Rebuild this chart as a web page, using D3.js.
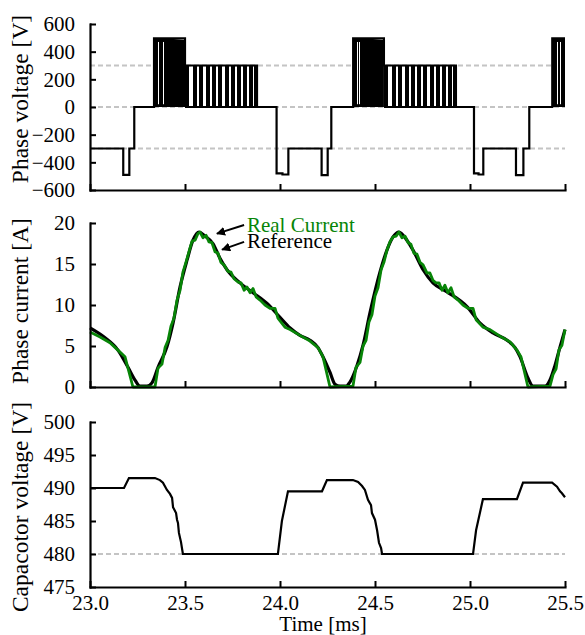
<!DOCTYPE html>
<html>
<head>
<meta charset="utf-8">
<script src="https://cdn.jsdelivr.net/npm/d3@7"></script>
<style>
body { margin: 0; background: #fff; }
svg text { font-family: "Liberation Serif", "Times New Roman", serif; }
</style>
</head>
<body>
<div id="chart"></div>
<script>
// ---- data ----
var timeTicks = [23.0, 23.5, 24.0, 24.5, 25.0, 25.5];
var voltTicks = [-600, -400, -200, 0, 200, 400, 600];
var currTicks = [0, 5, 10, 15, 20];
var capTicks = [475, 480, 485, 490, 495, 500];
var voltGrid = [300, 0, -300];
var capGrid = [480];

// phase voltage: [time ms, volts], held until the next entry
var voltSteps = [
    [23.000, -300], [23.175, -490], [23.207, -300], [23.233, 0],
    [23.337, 497], [23.500, 300], [23.879, 0],
    [23.982, -480], [24.013, -488], [24.044, -300], [24.219, -492], [24.251, -300], [24.270, 0],
    [24.385, 497], [24.547, 300], [24.926, 0],
    [25.021, -480], [25.045, -488], [25.070, -300], [25.242, -492], [25.281, -300], [25.312, 0],
    [25.433, 497], [25.500, 497]
];
// dense high-level switching blocks: [time, top volts]
var pwmHigh = [
    [[23.337, 497], [23.420, 494], [23.500, 486]],
    [[24.385, 497], [24.470, 494], [24.547, 486]],
    [[25.433, 497], [25.500, 496]]
];
// short off-intervals visible inside the dense blocks
var pwmHighGaps = [23.360, 23.383, 24.405, 24.416, 25.458, 25.474];
// 300 V switching bands: [start, end]
var pwmMid = [[23.500, 23.879], [24.547, 24.926]];
// black pulse clusters inside the 300 V bands: [start, end]
var pwmBars = [
    [23.500, 23.523], [23.543, 23.562], [23.576, 23.595], [23.609, 23.628], [23.642, 23.661],
    [23.675, 23.694], [23.708, 23.727], [23.741, 23.760], [23.774, 23.793], [23.807, 23.826],
    [23.838, 23.857], [23.862, 23.879],
    [24.547, 24.570], [24.590, 24.609], [24.623, 24.642], [24.656, 24.675], [24.689, 24.708],
    [24.722, 24.741], [24.755, 24.774], [24.788, 24.807], [24.821, 24.840], [24.854, 24.873],
    [24.884, 24.903], [24.909, 24.926]
];

// phase current reference [time, A]
var refCurrent = [
    [23.000, 7.2], [23.079, 6.0], [23.147, 4.5], [23.200, 2.4], [23.237, 0.85], [23.263, 0.1],
    [23.300, 0.1], [23.326, 0.5], [23.358, 2.4], [23.405, 4.9], [23.437, 7.8], [23.474, 12.2],
    [23.511, 15.5], [23.542, 17.9], [23.574, 18.9], [23.605, 18.4], [23.647, 17.5], [23.684, 15.7],
    [23.721, 14.3], [23.789, 12.7], [23.858, 11.5], [23.932, 10.2], [24.000, 8.5], [24.053, 7.2],
    [24.105, 6.3], [24.158, 5.7], [24.200, 4.8], [24.226, 3.7], [24.263, 1.8], [24.289, 0.35],
    [24.316, 0.1], [24.347, 0.1], [24.368, 0.6], [24.405, 2.6], [24.437, 5.1], [24.474, 9.1],
    [24.526, 14.0], [24.563, 16.7], [24.595, 18.3], [24.626, 18.9], [24.668, 17.9], [24.700, 16.7],
    [24.753, 14.3], [24.805, 12.7], [24.879, 11.6], [24.984, 9.8], [25.053, 7.8], [25.121, 6.6],
    [25.195, 5.7], [25.237, 4.8], [25.263, 3.7], [25.305, 1.1], [25.332, 0.1], [25.395, 0.1],
    [25.421, 0.85], [25.447, 2.6], [25.474, 4.9], [25.500, 7.0]
];
// measured phase current [time, A]
var realCurrent = [
    [23.000, 6.7], [23.053, 6.1], [23.105, 5.4], [23.147, 4.5], [23.184, 3.7], [23.226, 0.0],
    [23.342, 0.0], [23.358, 2.3], [23.379, 2.8], [23.395, 4.8], [23.411, 5.7], [23.426, 7.4],
    [23.442, 8.4], [23.458, 10.6], [23.474, 11.8], [23.489, 14.0], [23.505, 15.2], [23.521, 16.5],
    [23.537, 17.8], [23.553, 17.9], [23.568, 18.7], [23.579, 18.9], [23.595, 18.2], [23.611, 18.5],
    [23.626, 17.7], [23.642, 17.6], [23.658, 16.5], [23.674, 16.3], [23.689, 15.2], [23.705, 14.9],
    [23.726, 14.1], [23.742, 14.0], [23.758, 13.2], [23.779, 12.8], [23.795, 12.7], [23.811, 11.8],
    [23.826, 12.2], [23.842, 11.5], [23.858, 12.0], [23.874, 11.0], [23.895, 10.6], [23.921, 10.0],
    [23.947, 9.6], [23.974, 9.6], [23.989, 8.4], [24.026, 7.3], [24.053, 7.0], [24.105, 6.3],
    [24.158, 5.6], [24.200, 4.8], [24.226, 3.7], [24.263, 0.0], [24.384, 0.1], [24.400, 2.4],
    [24.421, 3.0], [24.437, 5.0], [24.453, 5.7], [24.468, 7.9], [24.484, 8.8], [24.500, 11.1],
    [24.516, 12.1], [24.532, 14.3], [24.547, 15.2], [24.563, 16.7], [24.579, 17.7], [24.595, 18.3],
    [24.611, 18.4], [24.626, 18.9], [24.642, 18.2], [24.658, 18.4], [24.674, 17.6], [24.689, 17.4],
    [24.705, 16.3], [24.721, 16.2], [24.737, 15.2], [24.753, 14.9], [24.774, 13.9], [24.789, 13.9],
    [24.805, 13.0], [24.821, 12.7], [24.837, 12.7], [24.853, 11.8], [24.868, 12.4], [24.884, 11.5],
    [24.900, 12.1], [24.916, 11.0], [24.937, 10.6], [24.963, 10.0], [24.989, 9.6], [25.016, 9.6],
    [25.032, 8.2], [25.068, 7.3], [25.105, 7.0], [25.158, 6.2], [25.211, 5.5], [25.247, 4.5],
    [25.268, 3.7], [25.305, 0.0], [25.421, 0.1], [25.437, 1.5], [25.453, 2.2], [25.468, 4.5],
    [25.484, 5.1], [25.500, 7.0]
];

// capacitor voltage [time, V]
var capVoltage = [
    [23.000, 490.0], [23.179, 490.0], [23.205, 491.5], [23.342, 491.5], [23.368, 491.2],
    [23.384, 490.8], [23.405, 489.7], [23.421, 489.1], [23.432, 488.5], [23.437, 487.1],
    [23.453, 486.2], [23.458, 485.2], [23.463, 484.7], [23.468, 483.2], [23.479, 481.8],
    [23.484, 480.9], [23.489, 480.0], [23.989, 480.0], [24.010, 485.0], [24.042, 489.5],
    [24.221, 489.5], [24.247, 491.2], [24.384, 491.2], [24.411, 490.9], [24.432, 490.3],
    [24.447, 489.7], [24.463, 488.2], [24.479, 487.4], [24.484, 486.2], [24.500, 485.2],
    [24.511, 483.6], [24.521, 481.7], [24.532, 480.9], [24.537, 480.0], [25.016, 480.0],
    [25.032, 483.6], [25.068, 488.3], [25.247, 488.3], [25.279, 490.8], [25.432, 490.8],
    [25.458, 490.2], [25.474, 489.5], [25.484, 489.2], [25.500, 488.6]
];

// ---- drawing ----
var width = 585, height = 635;
var svg = d3.select('#chart').append('svg')
    .attr('width', width)
    .attr('height', height);

var x = d3.scaleLinear().domain([23.0, 25.5]).range([90, 565]);
var yVolt = d3.scaleLinear().domain([-600, 600]).range([190, 24]);
var yCurr = d3.scaleLinear().domain([0, 20]).range([387, 223]);
var yCap = d3.scaleLinear().domain([475, 500]).range([587, 422]);

function drawAxes(y, ticks, showLabels) {
    var bottom = y.range()[0];
    var gx = svg.append('g')
        .attr('transform', 'translate(0,' + bottom + ')')
        .call(d3.axisBottom(x)
            .tickValues(timeTicks)
            .tickSizeInner(-6)
            .tickSizeOuter(0)
            .tickPadding(8)
            .tickFormat(showLabels ? d3.format('.1f') : function () { return ''; }));
    var gy = svg.append('g')
        .attr('transform', 'translate(' + x.range()[0] + ',0)')
        .call(d3.axisLeft(y)
            .tickValues(ticks)
            .tickSizeInner(-6)
            .tickSizeOuter(0)
            .tickPadding(15));
    [gx, gy].forEach(function (g) {
        g.attr('font-family', null);
        g.select('.domain').attr('stroke-width', 2.2).attr('stroke-linecap', 'square');
        g.selectAll('.tick line').attr('stroke-width', 2);
        g.selectAll('.tick text').style('font-size', '21px').attr('fill', '#000');
    });
}

function drawGrid(y, values) {
    svg.append('g').selectAll('line')
        .data(values)
        .join('line')
        .attr('x1', x.range()[0])
        .attr('x2', x.range()[1])
        .attr('y1', function (d) { return y(d); })
        .attr('y2', function (d) { return y(d); })
        .attr('stroke', '#c4c4c4')
        .attr('stroke-width', 2)
        .attr('stroke-dasharray', '5,3');
}

// panel 1: phase voltage
drawGrid(yVolt, voltGrid);

svg.append('g').selectAll('path')
    .data(pwmHigh)
    .join('path')
    .attr('d', d3.area()
        .x(function (d) { return x(d[0]); })
        .y0(yVolt(0))
        .y1(function (d) { return yVolt(d[1]); }))
    .attr('fill', '#000');

svg.append('g').selectAll('line')
    .data(pwmHighGaps)
    .join('line')
    .attr('x1', function (d) { return Math.round(x(d)) + 0.5; })
    .attr('x2', function (d) { return Math.round(x(d)) + 0.5; })
    .attr('y1', yVolt(470))
    .attr('y2', yVolt(20))
    .attr('stroke', '#fff')
    .attr('stroke-width', 1);

svg.append('g').selectAll('line')
    .data(pwmMid)
    .join('line')
    .attr('x1', function (d) { return x(d[0]); })
    .attr('x2', function (d) { return x(d[1]); })
    .attr('y1', yVolt(0))
    .attr('y2', yVolt(0))
    .attr('stroke', '#000')
    .attr('stroke-width', 2);

svg.append('g')
    .attr('shape-rendering', 'crispEdges')
    .selectAll('rect')
    .data(pwmBars)
    .join('rect')
    .attr('x', function (d) { return Math.round(x(d[0])); })
    .attr('width', function (d) { return Math.max(2, Math.round(x(d[1]) - x(d[0]))); })
    .attr('y', yVolt(300))
    .attr('height', yVolt(0) - yVolt(300))
    .attr('fill', '#000');

svg.append('path')
    .datum(voltSteps)
    .attr('d', d3.line()
        .x(function (d) { return x(d[0]); })
        .y(function (d) { return yVolt(d[1]); })
        .curve(d3.curveStepAfter))
    .attr('fill', 'none')
    .attr('stroke', '#000')
    .attr('stroke-width', 2.2);

drawAxes(yVolt, voltTicks, false);

// panel 2: phase current
var currLine = d3.line()
    .x(function (d) { return x(d[0]); })
    .y(function (d) { return yCurr(d[1]); });

svg.append('path')
    .datum(refCurrent)
    .attr('d', currLine.curve(d3.curveMonotoneX))
    .attr('fill', 'none')
    .attr('stroke', '#000')
    .attr('stroke-width', 3.2);

svg.append('path')
    .datum(realCurrent)
    .attr('d', currLine.curve(d3.curveLinear))
    .attr('fill', 'none')
    .attr('stroke', '#078507')
    .attr('stroke-width', 2.8)
    .attr('stroke-linejoin', 'round');

drawAxes(yCurr, currTicks, false);

// legend annotations: [label, colour, text time, text A, arrow tail, arrow head]
var notes = [
    ['Real Current', '#078507', 23.826, 18.9, [23.811, 19.75], [23.668, 18.7]],
    ['Reference', '#000', 23.826, 16.9, [23.811, 17.7], [23.695, 16.75]]
];
var defs = svg.append('defs');
defs.append('marker')
    .attr('id', 'head')
    .attr('viewBox', '0 0 10 10')
    .attr('refX', 9)
    .attr('refY', 5)
    .attr('markerWidth', 4.5)
    .attr('markerHeight', 4.5)
    .attr('orient', 'auto')
    .append('path')
    .attr('d', 'M0,0L10,5L0,10z')
    .attr('fill', '#000');

svg.append('g').selectAll('line')
    .data(notes)
    .join('line')
    .attr('x1', function (d) { return x(d[4][0]); })
    .attr('y1', function (d) { return yCurr(d[4][1]); })
    .attr('x2', function (d) { return x(d[5][0]); })
    .attr('y2', function (d) { return yCurr(d[5][1]); })
    .attr('stroke', '#000')
    .attr('stroke-width', 2)
    .attr('marker-end', 'url(#head)');

svg.append('g').selectAll('text')
    .data(notes)
    .join('text')
    .attr('x', function (d) { return x(d[2]); })
    .attr('y', function (d) { return yCurr(d[3]); })
    .attr('fill', function (d) { return d[1]; })
    .style('font-size', '21px')
    .text(function (d) { return d[0]; });

// panel 3: capacitor voltage
drawGrid(yCap, capGrid);

svg.append('path')
    .datum(capVoltage)
    .attr('d', d3.line()
        .x(function (d) { return x(d[0]); })
        .y(function (d) { return yCap(d[1]); }))
    .attr('fill', 'none')
    .attr('stroke', '#000')
    .attr('stroke-width', 2.2);

drawAxes(yCap, capTicks, true);

// axis titles
var titles = [
    ['Phase voltage [V]', 99],
    ['Phase current [A]', 301],
    ['Capacotor voltage [V]', 507]
];
svg.append('g').selectAll('text')
    .data(titles)
    .join('text')
    .attr('transform', function (d) { return 'translate(28,' + d[1] + ') rotate(-90)'; })
    .attr('text-anchor', 'middle')
    .style('font-size', '23.5px')
    .text(function (d) { return d[0]; });

svg.append('text')
    .attr('x', 323)
    .attr('y', 631)
    .attr('text-anchor', 'middle')
    .style('font-size', '21px')
    .text('Time [ms]');
</script>
</body>
</html>
